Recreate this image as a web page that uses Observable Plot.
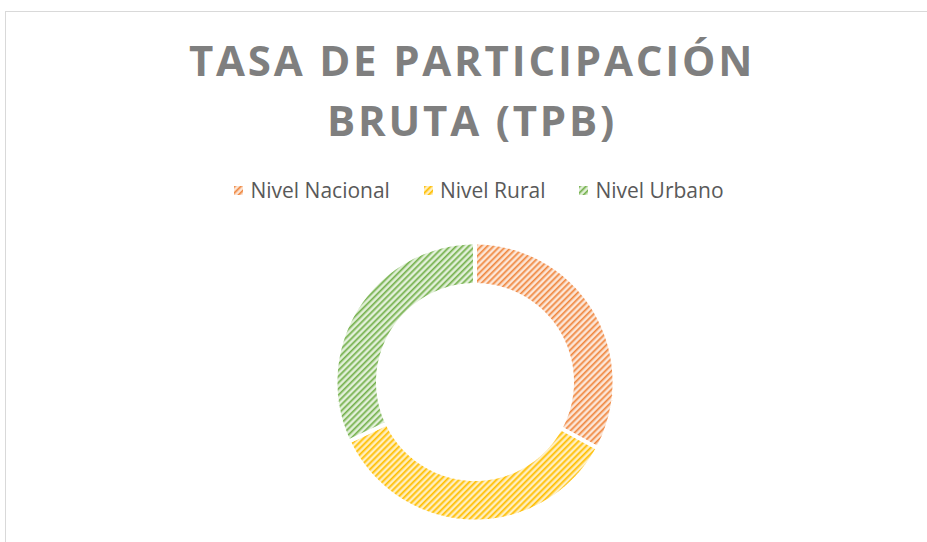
<!DOCTYPE html>
<html><head><meta charset="utf-8">
<script src="https://cdn.jsdelivr.net/npm/d3@7"></script>
<script src="https://cdn.jsdelivr.net/npm/@observablehq/plot@0.6"></script>
<style>
html,body{margin:0;padding:0;background:#fff;width:927px;height:542px;overflow:hidden;font-family:"Open Sans",sans-serif;}
#frame{position:absolute;left:5px;top:11px;width:940px;height:540px;border-left:1px solid #d9d9d9;border-top:1px solid #d9d9d9;}
#title{position:absolute;left:0;top:30px;width:944px;text-align:center;font-weight:700;font-size:42px;letter-spacing:2.8px;line-height:60px;color:#7f7f7f;}
#legend{position:absolute;left:0;top:176px;width:958px;display:flex;justify-content:center;align-items:center;font-size:21px;line-height:28px;color:#595959;}
#legend .item{display:flex;align-items:center;margin:0 17px;}
#legend svg{margin-right:7px;}
#chart{position:absolute;left:0;top:215px;}
</style></head>
<body>
<svg width="0" height="0" style="position:absolute">
  <defs id="defs"></defs>
</svg>
<div id="frame"></div>
<div id="title">TASA DE PARTICIPACIÓN<br>BRUTA (TPB)</div>
<div id="legend"></div>
<div id="chart"></div>
<script>
const categories = ["Nivel Nacional", "Nivel Rural", "Nivel Urbano"];
const values = [86.4, 92.3, 84.1];
const stripeColors = ["#F0873F", "#FFBF00", "#74B04C"];
const backColors = ["#F9CFB3", "#FFE08A", "#C8E2B7"];
const lightColors = ["#FDEDE2", "#FFF4D1", "#EAF4E3"];

// patterns
const P = 4.4;
const defs = d3.select("#defs");
const patternIds = categories.map((c, i) => "pat" + i);
patternIds.forEach((id, i) => {
  const p = defs.append("pattern").attr("id", id).attr("patternUnits", "userSpaceOnUse")
    .attr("width", P).attr("height", P).attr("patternTransform", "rotate(45)");
  p.append("rect").attr("width", P).attr("height", P).attr("fill", backColors[i]);
  p.append("rect").attr("x", 2.5).attr("width", 1.2).attr("height", P).attr("fill", lightColors[i]);
  p.append("rect").attr("x", 0).attr("width", 1.4).attr("height", P).attr("fill", stripeColors[i]);
});

// legend
const legend = d3.select("#legend");
categories.forEach((c, i) => {
  const it = legend.append("div").attr("class", "item");
  it.append("svg").attr("width", 9).attr("height", 9)
    .append("rect").attr("width", 9).attr("height", 9).attr("fill", `url(#${patternIds[i]})`);
  it.append("span").text(c);
});

// donut geometry
const W = 927, H = 327;
const cx = 474.5, cy = 166.5, unit = 137.5;
const rOuter = 139.5 / unit, rInner = 97 / unit;
const data = categories.map((c, i) => ({cat: c, value: values[i]}));
const arcs = d3.pie().sort(null).value(d => d.value)(data);
const rows = [];
arcs.forEach(a => {
  const n = 120;
  const pts = [];
  for (let k = 0; k <= n; k++) {
    const t = a.startAngle + (a.endAngle - a.startAngle) * k / n;
    pts.push({cat: a.data.cat, x: rOuter * Math.sin(t), y: rOuter * Math.cos(t)});
  }
  for (let k = n; k >= 0; k--) {
    const t = a.startAngle + (a.endAngle - a.startAngle) * k / n;
    pts.push({cat: a.data.cat, x: rInner * Math.sin(t), y: rInner * Math.cos(t)});
  }
  pts.push({...pts[0]});
  rows.push(...pts);
});

const chart = Plot.plot({
  width: W, height: H, margin: 0,
  x: {domain: [-cx / unit, (W - cx) / unit], axis: null},
  y: {domain: [-(H - cy) / unit, cy / unit], axis: null},
  color: {type: "ordinal", domain: categories, range: patternIds.map(id => `url(#${id})`)},
  marks: [
    Plot.line(rows, {x: "x", y: "y", z: "cat", fill: "cat", stroke: "white", strokeWidth: 4,
      strokeLinejoin: "miter", strokeLinecap: "butt", curve: "linear"})
  ]
});
document.getElementById("chart").appendChild(chart);
</script>
</body></html>
